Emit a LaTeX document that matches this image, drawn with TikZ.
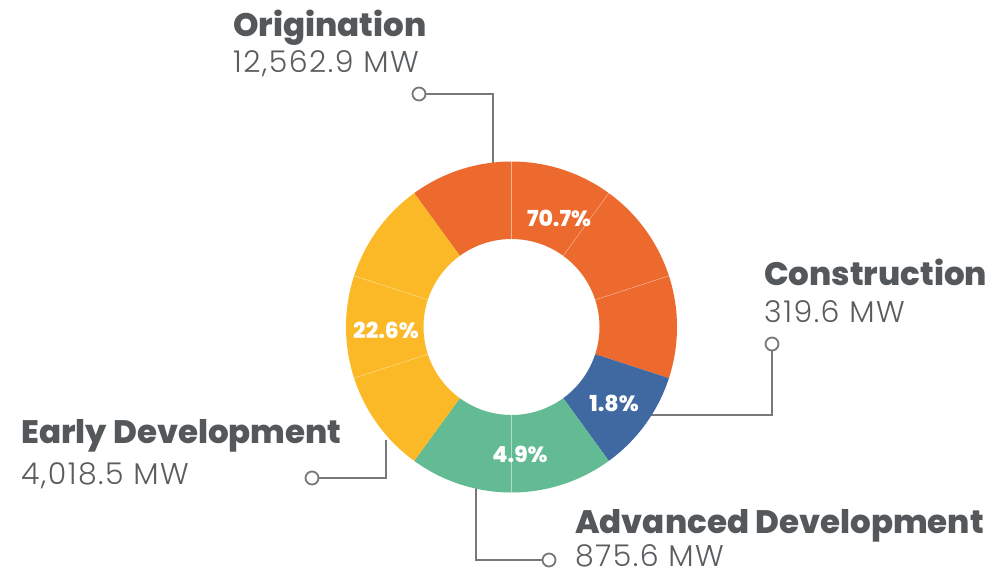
\documentclass[tikz,border=0pt]{standalone}
\usepackage{fontspec}
\setmainfont{Poppins}
\newfontfamily\lightfont{Poppins Light}[LetterSpace=5]
\newfontfamily\heavyfont{Poppins ExtraBold}
\usetikzlibrary{positioning}

\definecolor{origorange}{HTML}{EC6A2E}
\definecolor{earlyyellow}{HTML}{FBB827}
\definecolor{advgreen}{HTML}{62BB93}
\definecolor{constblue}{HTML}{3F69A0}
\definecolor{textdark}{HTML}{55585B}
\definecolor{textlight}{HTML}{5A5D60}
\definecolor{linegray}{HTML}{77787B}

\begin{document}
\begin{tikzpicture}[x=1pt,y=-1pt,
  title/.style={anchor=base west,inner sep=0pt,text depth=0pt,font=\heavyfont\fontsize{32.5}{32.5}\selectfont,text=textdark},
  value/.style={anchor=base west,inner sep=0pt,text depth=0pt,font=\lightfont\fontsize{30}{30}\selectfont,text=textlight},
  pct/.style={inner sep=0pt,font=\heavyfont\fontsize{22}{22}\selectfont,text=white},
  pin/.style={circle,draw=linegray,line width=1.8pt,fill=white,minimum size=13pt,inner sep=0pt},
  leader/.style={draw=linegray,line width=1.8pt}]

\useasboundingbox (0,0) rectangle (1003,575);

% labels
\node[title] (origt) at (233,37) {Origination};
\node[value] (origv) at (233,73) {12,562.9 MW};

\node[title] (constt) at (764,285) {Construction};
\node[value] (constv) at (764,322) {319.6 MW};

\node[title] (earlyt) at (21,443) {Early Development};
\node[value] (earlyv) at (21,484) {4,018.5 MW};

\node[title] (advt) at (575,533) {Advanced Development};
\node[value] (advv) at (575,566.5) {875.6 MW};

% leaders
\node[pin] (origp)  at (419,94) {};
\node[pin] (constp) at (772,344) {};
\node[pin] (earlyp) at (312,478) {};
\node[pin] (advp)   at (549,560) {};

\coordinate (origr)  at (492.7,170);
\coordinate (constr) at (645,415);
\coordinate (earlyr) at (386,440);
\coordinate (advr)   at (476,480);

\draw[leader] (origp) -| (origr);
\draw[leader] (constp) |- (constr);
\draw[leader] (earlyp) -| (earlyr);
\draw[leader] (advp) -| (advr);

% donut
\begin{scope}[shift={(511.5,327)},yscale=-1]
\foreach \a/\b/\c in {126/90/origorange,90/54/origorange,54/18/origorange,18/-18/origorange,
                      -18/-54/constblue,-54/-90/advgreen,-90/-126/advgreen,
                      -126/-162/earlyyellow,-162/-198/earlyyellow,-198/-234/earlyyellow} {
  \fill[\c] (\a:165.5) arc[start angle=\a,end angle=\b,radius=165.5]
    -- (\b:88) arc[start angle=\b,end angle=\a,radius=88] -- cycle;
}
\foreach \a in {90,54,18,-90,-162,-198} {
  \draw[white,opacity=0.35,line width=0.6pt] (\a:88) -- (\a:165.5);
}
\end{scope}

\node[pct] (origpct)  at (559,218) {70.7\%};
\node[pct] (earlypct) at (386,330) {22.6\%};
\node[pct] (constpct) at (614,403) {1.8\%};
\node[pct] (advpct)   at (520,454) {4.9\%};

\end{tikzpicture}
\end{document}
